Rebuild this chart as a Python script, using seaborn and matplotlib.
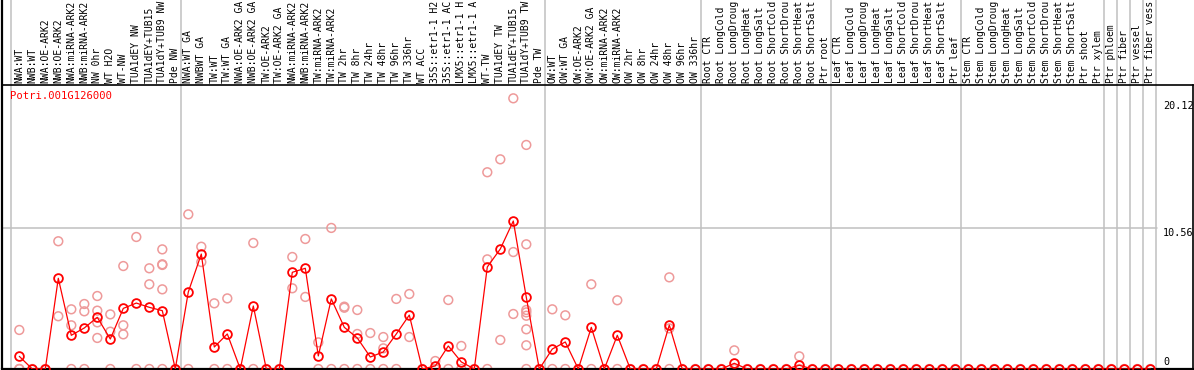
import numpy as np
import pandas as pd
import seaborn as sns
import matplotlib.pyplot as plt

gene_id = 'Potri.001G126000'

samples = [
    'NWA:WT', 'NWB:WT', 'NWA:OE-ARK2', 'NWB:OE-ARK2', 'NWA:miRNA-ARK2', 'NWB:miRNA-ARK2',
    'NW 0hr', 'WT H2O', 'WT-NW', 'TUA1dEY NW', 'TUA1dEY+TUB15', 'TUA1dY+TUB9 NW', 'Pde NW',
    'NWA:WT GA', 'NWBWT GA', 'TW:WT', 'TW:WT GA', 'NWA:OE-ARK2 GA', 'NWB:OE-ARK2 GA',
    'TW:OE-ARK2', 'TW:OE-ARK2 GA', 'NWA:miRNA-ARK2', 'NWB:miRNA-ARK2', 'TW:miRNA-ARK2',
    'TW:miRNA-ARK2', 'TW 2hr', 'TW 8hr', 'TW 24hr', 'TW 48hr', 'TW 96hr', 'TW 336hr',
    'WT ACC', '35S::etr1-1 H2', '35S::etr1-1 AC', 'LMX5::etr1-1 H', 'LMX5::etr1-1 A',
    'WT-TW', 'TUA1dEY TW', 'TUA1dEY+TUB15', 'TUA1dY+TUB9 TW', 'Pde TW',
    'OW:WT', 'OW:WT GA', 'OW:OE-ARK2', 'OW:OE-ARK2 GA', 'OW:miRNA-ARK2', 'OW:miRNA-ARK2',
    'OW 2hr', 'OW 8hr', 'OW 24hr', 'OW 48hr', 'OW 96hr', 'OW 336hr',
    'Root CTR', 'Root LongCold', 'Root LongDroug', 'Root LongHeat', 'Root LongSalt',
    'Root ShortCold', 'Root ShortDrou', 'Root ShortHeat', 'Root ShortSalt', 'Ptr root',
    'Leaf CTR', 'Leaf LongCold', 'Leaf LongDroug', 'Leaf LongHeat', 'Leaf LongSalt',
    'Leaf ShortCold', 'Leaf ShortDrou', 'Leaf ShortHeat', 'Leaf ShortSalt', 'Ptr leaf',
    'Stem CTR', 'Stem LongCold', 'Stem LongDroug', 'Stem LongHeat', 'Stem LongSalt',
    'Stem ShortCold', 'Stem ShortDrou', 'Stem ShortHeat', 'Stem ShortSalt', 'Ptr shoot',
    'Ptr xylem', 'Ptr phloem', 'Ptr fiber', 'Ptr vessel', 'Ptr fiber vess',
]

# mean expression per sample (the red line)
means = [
    0.95, 0, 0, 6.81, 2.53, 3.08, 3.88, 2.25, 4.55, 4.95, 4.63, 4.38, 0,
    5.78, 8.63, 1.65, 2.63, 0, 4.73, 0, 0, 7.26, 7.56, 0.98, 5.26, 3.13, 2.33,
    0.9, 1.28, 2.63, 4.05, 0, 0.23, 1.73, 0.53, 0, 7.66, 9.01, 11.11, 5.38, 0,
    1.5, 2.03, 0, 3.13, 0, 2.53, 0, 0, 0, 3.3, 0, 0,
    0, 0, 0.43, 0, 0, 0, 0, 0.28, 0, 0,
    0, 0, 0, 0, 0, 0, 0, 0, 0, 0,
    0, 0, 0, 0, 0, 0, 0, 0, 0, 0,
    0, 0, 0, 0, 0,
]

# individual replicates (pink circles)
replicates = [
    [2.93, 0, 0], [0], [0], [9.59, 3.96], [4.48, 3.28, 0], [4.88, 4.33, 0],
    [5.48, 4.38, 3.5, 2.33], [4.1, 2.8, 0], [7.73, 3.28, 2.6], [9.91, 0],
    [7.56, 6.36, 0], [8.98, 7.86, 7.81, 5.98, 0], [0],
    [11.61, 0], [9.18, 8.03], [4.93, 0], [5.3, 0], [0], [9.46, 0], [0], [0],
    [8.41, 6.06], [9.76, 5.41], [2.0, 0], [10.59, 0], [4.68, 4.6, 0],
    [4.43, 2.63, 0], [2.7, 0], [2.4, 1.55, 0], [5.26, 0], [5.63, 2.4], [0],
    [0.6, 0], [5.18, 0], [1.73, 0], [0], [14.77, 8.23, 0], [15.74, 2.18],
    [20.32, 8.78, 4.13], [16.82, 9.36, 4.43, 4.25, 4.0, 2.98, 1.78, 0], [0],
    [4.48, 0], [4.03, 0], [0], [6.36, 0], [0], [5.16, 0], [0], [0], [0],
    [6.88, 3.05, 0], [0], [0],
    [0], [0], [1.4, 0], [0], [0], [0], [0], [0.95, 0], [0], [0],
] + [[0]] * 25

# last sample index of each group (gray separators)
group_ends = [12, 40, 52, 62, 72, 83, 84, 85, 86, 87]
y_ticks = [0, 10.56, 20.12]
y_max_axis = 21.32

W, H = 1194, 370
mono = ['DejaVu Sans Mono']
sns.set_style('white')
plt.rcParams['font.family'] = mono

fig = plt.figure(figsize=(W / 100, H / 100), dpi=100)
ax_l, ax_r, ax_b, ax_t = 2, 1193, 1, 285
ax = fig.add_axes([ax_l / W, ax_b / H, (ax_r - ax_l) / W, (ax_t - ax_b) / H])

x0, dx = 19.3, 13.0
ax.set_xlim((ax_l - x0) / dx, (ax_r - x0) / dx)
ax.set_ylim(0, y_max_axis)

idx = np.arange(len(samples))
rep_df = pd.DataFrame({
    'x': np.concatenate([[i] * len(r) for i, r in enumerate(replicates)]),
    'value': np.concatenate(replicates),
})
mean_df = pd.DataFrame({'x': idx, 'value': means})

grid_c = '#c0c0c0'
ax_h_px = ax_t - ax_b
ext = (H - ax_b) / ax_h_px
grid_right = (1157 - x0) / dx
ax.plot([ax.get_xlim()[0], grid_right], [y_ticks[1]] * 2, color=grid_c, lw=1.1, zorder=1)
for g in [-0.66] + [e + 0.42 for e in group_ends]:
    ax.axvline(g, ymin=0, ymax=ext, color=grid_c, lw=1.1, clip_on=False, zorder=1)

sns.scatterplot(data=rep_df, x='x', y='value', ax=ax, marker='o', s=40,
                facecolor='none', edgecolor='#ee9a9a', linewidth=1.1, zorder=2,
                legend=False)
sns.lineplot(data=mean_df, x='x', y='value', ax=ax, color='red', lw=0.9,
             marker='o', markersize=6.3, markerfacecolor='none',
             markeredgecolor='red', markeredgewidth=1.3, zorder=3)

for s in ax.spines.values():
    s.set_color('black')
    s.set_linewidth(1.2)
ax.spines['bottom'].set_linewidth(1.6)
ax.plot([ax.get_xlim()[0]] * 2, [0, y_max_axis * ext], color='black', lw=1.6,
        clip_on=False, zorder=4)
ax.set_xticks([])
ax.set_yticks([])
ax.set_xlabel('')
ax.set_ylabel('')

# sample labels above the plot
for i, lab in enumerate(samples):
    ax.text(i, 1 + 2 / ax_h_px, lab, transform=ax.get_xaxis_transform(),
            rotation=90, ha='center', va='bottom', fontsize=7.0, color='black')

ax.text(8 / (ax_r - ax_l), (ax_t - 12 + ax_b - 1) / ax_h_px, gene_id,
        transform=ax.transAxes, ha='left', va='center', fontsize=7.6, color='red')

lab_x = (1163 - x0) / dx
for v in y_ticks[1:]:
    ax.text(lab_x, v, f'{v:.2f}', ha='left', va='top', fontsize=7.3, color='black')
ax.text(lab_x, 0.55, '0', ha='left', va='center', fontsize=7.3, color='black')

fig.savefig('out.png', dpi=100)
